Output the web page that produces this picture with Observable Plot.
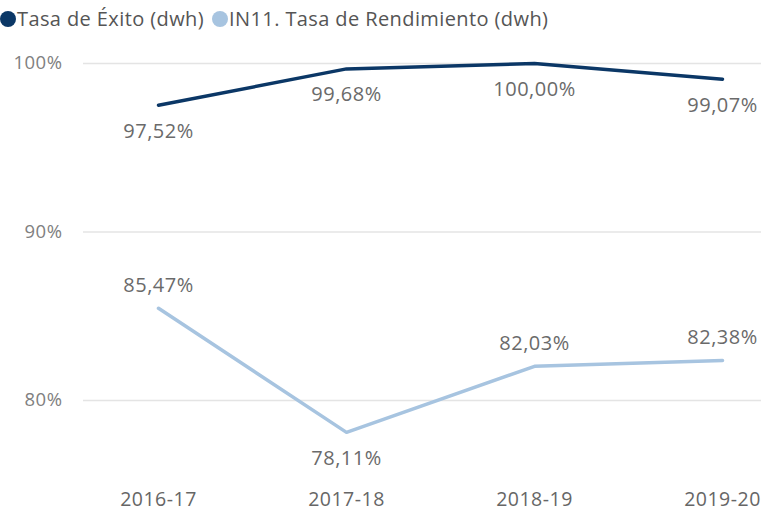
<!DOCTYPE html>
<html><head><meta charset="utf-8">
<script src="https://cdn.jsdelivr.net/npm/d3@7"></script>
<script src="https://cdn.jsdelivr.net/npm/@observablehq/plot@0.6"></script>
<style>
body{margin:0;background:#fff;font-family:"Open Sans",sans-serif;}
#legend{height:35px;display:flex;align-items:center;font-size:20px;color:#555;white-space:nowrap;padding-left:0px;letter-spacing:0.4px;padding-top:2px;box-sizing:border-box;}
#legend .dot{display:inline-block;width:16px;height:16px;border-radius:50%;margin-right:1px;}
#legend .item{display:flex;align-items:center;margin-right:8px;}
</style></head>
<body>
<div id="legend"></div>
<div id="chart"></div>
<script>
const years = ["2016-17","2017-18","2018-19","2019-20"];
const seriesNames = ["Tasa de Éxito (dwh)","IN11. Tasa de Rendimiento (dwh)"];
const exito = [97.52, 99.68, 100.00, 99.07];
const rendimiento = [85.47, 78.11, 82.03, 82.38];
const yTicks = [80, 90, 100];
const colors = ["#0b3766","#a7c4e0"];
// label placement: -1 above, +1 below
const exitoPos = [1,1,1,1];
const rendPos = [-1,1,-1,-1];

const rows = [];
years.forEach((y,i)=>{
  rows.push({year:y, v:exito[i], s:seriesNames[0], pos:exitoPos[i]});
  rows.push({year:y, v:rendimiento[i], s:seriesNames[1], pos:rendPos[i]});
});
const fmt = v => v.toFixed(2).replace(".",",") + "%";

const leg = document.getElementById("legend");
seriesNames.forEach((n,i)=>{
  const it = document.createElement("span"); it.className="item";
  it.innerHTML = `<span class="dot" style="background:${colors[i]}"></span>${n}`;
  leg.appendChild(it);
});

const chart = Plot.plot({
  width: 761, height: 478,
  marginLeft: 83, marginRight: 0, marginTop: 0, marginBottom: 22,
  style: {fontFamily: "'Open Sans', sans-serif", background: "#fff", letterSpacing: "0.5px"},
  x: {type: "point", domain: years, range: [158, 722], padding: 0, label: null},
  y: {domain: [80, 100], range: [365, 28], label: null},
  color: {domain: seriesNames, range: colors},
  marks: [
    Plot.ruleY(yTicks, {stroke: "#e4e4e4", strokeWidth: 1.5}),
    Plot.axisY(yTicks, {tickSize: 0, tickPadding: 21, tickFormat: d => d + "%", fontSize: 18.5, fill: "#808080", label: null}),
    Plot.axisX({tickSize: 0, tickPadding: 1, fontSize: 19.5, fill: "#666", label: null}),
    Plot.line(rows, {x: "year", y: "v", stroke: "s", strokeWidth: 3.5, z: "s"}),
    Plot.text(rows.filter(d=>d.pos>0), {x: "year", y: "v", text: d => fmt(d.v), dy: 26, fontSize: 20, fill: "#6a6a6a"}),
    Plot.text(rows.filter(d=>d.pos<0), {x: "year", y: "v", text: d => fmt(d.v), dy: -23, fontSize: 20, fill: "#6a6a6a"})
  ]
});
document.getElementById("chart").appendChild(chart);
</script>
</body></html>
